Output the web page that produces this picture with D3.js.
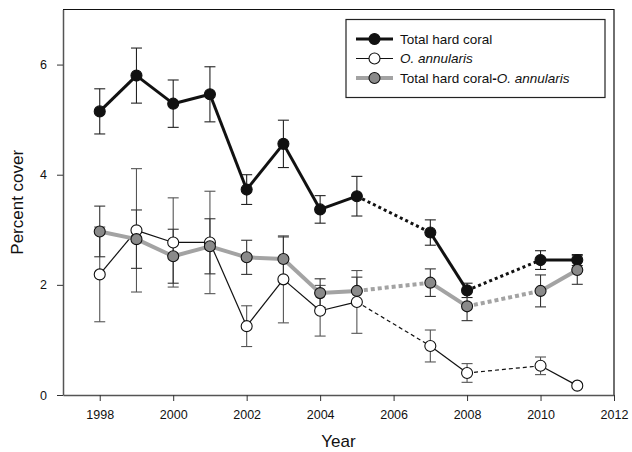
<!DOCTYPE html>
<html>
<head>
<meta charset="utf-8">
<script src="https://cdn.jsdelivr.net/npm/d3@7"></script>
<style>
  body { margin: 0; background: #fff; }
  svg { font-family: "Liberation Sans", Arial, sans-serif; }
</style>
</head>
<body>
<div id="chart"></div>
<script>
// survey years (2006 and 2009 missing -> dotted joins)
const years = [1998, 1999, 2000, 2001, 2002, 2003, 2004, 2005, 2007, 2008, 2010, 2011];

// Total hard coral
const totalMean = [5.15, 5.80, 5.29, 5.46, 3.73, 4.56, 3.37, 3.61, 2.95, 1.90, 2.45, 2.45];
const totalErr  = [0.41, 0.50, 0.43, 0.50, 0.27, 0.43, 0.25, 0.36, 0.23, 0.13, 0.17, 0.10];

// O. annularis
const annMean = [2.19, 2.99, 2.77, 2.77, 1.25, 2.10, 1.53, 1.69, 0.89, 0.40, 0.53, 0.17];
const annErr  = [0.86, 1.12, 0.81, 0.93, 0.37, 0.79, 0.46, 0.57, 0.29, 0.17, 0.16, 0.04];

// Total hard coral minus O. annularis
const diffMean = [2.97, 2.83, 2.52, 2.70, 2.50, 2.47, 1.85, 1.89, 2.04, 1.61, 1.89, 2.27];
const diffErr  = [0.46, 0.53, 0.49, 0.50, 0.31, 0.40, 0.26, 0.25, 0.25, 0.26, 0.29, 0.26];

const xTicks = [1998, 2000, 2002, 2004, 2006, 2008, 2010, 2012];
const yTicks = [0, 2, 4, 6];

const width = 632, height = 452;
const margin = {top: 9.5, right: 18, bottom: 57, left: 63};

let svg = d3.select("#chart")
    .append("svg")
    .attr("width", width)
    .attr("height", height);

let x = d3.scaleLinear()
    .domain([1997, 2012])
    .range([margin.left, width - margin.right]);

let y = d3.scaleLinear()
    .domain([0, 7])
    .range([height - margin.bottom, margin.top]);

// frame (top + right)
svg.append("path")
    .attr("d", `M${x(1997)},${y(7)}H${x(2012)}V${y(0)}`)
    .attr("fill", "none")
    .attr("stroke", "#111")
    .attr("stroke-width", 1.2);

// axes
let xAxis = svg.append("g")
    .attr("transform", `translate(0, ${y(0)})`)
    .call(d3.axisBottom(x).tickValues(xTicks).tickFormat(d3.format("d")).tickSize(6).tickSizeOuter(0).tickPadding(9));

let yAxis = svg.append("g")
    .attr("transform", `translate(${x(1997)}, 0)`)
    .call(d3.axisLeft(y).tickValues(yTicks).tickFormat(d3.format("d")).tickSize(6).tickSizeOuter(0).tickPadding(10));

[xAxis, yAxis].forEach(function(a) {
    a.select(".domain").attr("stroke", "#555").attr("stroke-width", 1.5);
    a.selectAll(".tick line").attr("stroke", "#333");
    a.selectAll(".tick text")
        .attr("fill", "#111")
        .style("font-size", "12.5px")
        .style("font-family", "Liberation Sans, Arial, sans-serif");
});

// axis titles
svg.append("text")
    .attr("x", (x(1997) + x(2012)) / 2)
    .attr("y", 447)
    .style("text-anchor", "middle")
    .style("font-size", "17px")
    .attr("fill", "#111")
    .text("Year");

svg.append("text")
    .attr("transform", `translate(23, ${(y(0) + y(7)) / 2}) rotate(-90)`)
    .style("text-anchor", "middle")
    .style("font-size", "17px")
    .attr("fill", "#111")
    .text("Percent cover");

// series definitions
const series = [
    {name: "total", mean: totalMean, err: totalErr, line: "#111", lw: 3, dash: "3,3", fill: "#111", barColor: "#222"},
    {name: "ann", mean: annMean, err: annErr, line: "#111", lw: 1.2, dash: "4,3", fill: "#fff", barColor: "#555"},
    {name: "diff", mean: diffMean, err: diffErr, line: "#a3a3a3", lw: 4, dash: "4,3", fill: "#8a8a8a", barColor: "#333"}
];

const capW = 5.5;
const r = 5.5;

// error bars first
series.forEach(function(s) {
    let g = svg.append("g").attr("stroke", s.barColor).attr("stroke-width", 1.1);
    years.forEach(function(yr, i) {
        let cx = x(yr), top = y(s.mean[i] + s.err[i]), bot = y(s.mean[i] - s.err[i]);
        g.append("line").attr("x1", cx).attr("x2", cx).attr("y1", top).attr("y2", bot);
        g.append("line").attr("x1", cx - capW).attr("x2", cx + capW).attr("y1", top).attr("y2", top);
        g.append("line").attr("x1", cx - capW).attr("x2", cx + capW).attr("y1", bot).attr("y2", bot);
    });
});

// lines: solid between consecutive years, dotted across a missing year
series.forEach(function(s) {
    let g = svg.append("g");
    for (let i = 0; i < years.length - 1; i++) {
        let gap = years[i + 1] - years[i] > 1;
        g.append("line")
            .attr("x1", x(years[i])).attr("y1", y(s.mean[i]))
            .attr("x2", x(years[i + 1])).attr("y2", y(s.mean[i + 1]))
            .attr("stroke", s.line)
            .attr("stroke-width", s.lw)
            .attr("stroke-dasharray", gap ? s.dash : null);
    }
});

// markers (gray drawn last, on top)
series.forEach(function(s) {
    svg.append("g").selectAll("circle")
        .data(years)
        .enter()
        .append("circle")
        .attr("cx", d => x(d))
        .attr("cy", (d, i) => y(s.mean[i]))
        .attr("r", r)
        .attr("fill", s.fill)
        .attr("stroke", "#111")
        .attr("stroke-width", 1.1);
});

// legend
let lg = svg.append("g");
lg.append("rect")
    .attr("x", 346).attr("y", 19.5)
    .attr("width", 259).attr("height", 78)
    .attr("fill", "#fff")
    .attr("stroke", "#222")
    .attr("stroke-width", 1.2);

const legendRows = [
    {s: series[0], y: 39},
    {s: series[1], y: 58.5},
    {s: series[2], y: 78}
];
legendRows.forEach(function(row) {
    lg.append("line")
        .attr("x1", 356).attr("x2", 393)
        .attr("y1", row.y).attr("y2", row.y)
        .attr("stroke", row.s.line)
        .attr("stroke-width", row.s.lw);
    lg.append("circle")
        .attr("cx", 374.5).attr("cy", row.y).attr("r", r)
        .attr("fill", row.s.fill)
        .attr("stroke", "#111")
        .attr("stroke-width", 1.1);
});

function legendText(yPos) {
    return lg.append("text")
        .attr("x", 400).attr("y", yPos + 4.5)
        .style("font-size", "13.5px")
        .attr("fill", "#111");
}
legendText(39).text("Total hard coral");
legendText(58.5).append("tspan").style("font-style", "italic").text("O. annularis");
let t3 = legendText(78);
t3.append("tspan").text("Total hard coral");
t3.append("tspan").style("font-weight", "bold").text("-");
t3.append("tspan").style("font-style", "italic").text("O. annularis");
</script>
</body>
</html>
